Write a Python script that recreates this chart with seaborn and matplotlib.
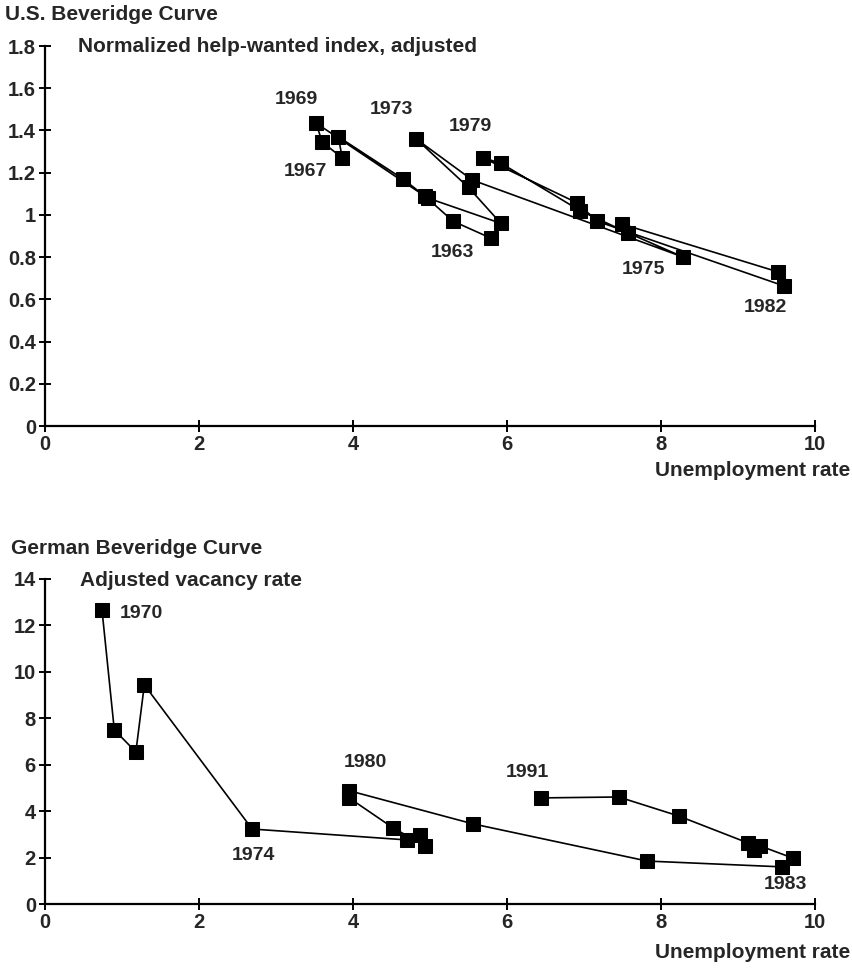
import matplotlib
matplotlib.use("Agg")
import matplotlib.pyplot as plt
import seaborn as sns
import pandas as pd

# ---------------- data ----------------
# U.S. Beveridge curve (unemployment rate, normalized help-wanted index), in time order
us_unemp = [5.79, 5.30, 4.93, 4.65, 3.81, 3.86, 3.60, 3.52, 4.97, 5.92, 5.50, 4.82,
            5.55, 8.29, 7.57, 6.95, 5.92, 5.69, 6.91, 7.17, 9.60, 9.52, 7.49]
us_hwi = [0.89, 0.97, 1.09, 1.17, 1.37, 1.27, 1.345, 1.435, 1.08, 0.96, 1.13, 1.36,
          1.165, 0.80, 0.915, 1.02, 1.245, 1.27, 1.057, 0.97, 0.663, 0.73, 0.957]
us_year_labels = ["1969", "1967", "1973", "1979", "1963", "1975", "1982"]
us_label_x = [3.27, 3.38, 4.50, 5.53, 5.29, 7.77, 9.35]
us_label_y = [1.545, 1.205, 1.497, 1.42, 0.82, 0.74, 0.56]

# German Beveridge curve (unemployment rate, adjusted vacancy rate), in time order
de_unemp = [0.74, 0.90, 1.18, 1.29, 2.69, 4.70, 4.87, 4.94, 4.52, 3.95, 3.95,
            5.56, 7.82, 9.57, 9.71, 9.29, 9.21, 9.13, 8.23, 7.45, 6.44]
de_vac = [12.67, 7.50, 6.55, 9.44, 3.23, 2.76, 2.97, 2.50, 3.28, 4.57, 4.88,
          3.45, 1.85, 1.60, 1.98, 2.50, 2.33, 2.63, 3.79, 4.61, 4.57]
de_year_labels = ["1970", "1974", "1980", "1991", "1983"]
de_label_x = [1.25, 2.71, 4.16, 6.26, 9.61]
de_label_y = [12.5, 2.1, 6.08, 5.65, 0.82]

us_xticks = [0, 2, 4, 6, 8, 10]
us_yticks = [0, 0.2, 0.4, 0.6, 0.8, 1.0, 1.2, 1.4, 1.6, 1.8]
us_yticklabels = ["0", "0.2", "0.4", "0.6", "0.8", "1", "1.2", "1.4", "1.6", "1.8"]
de_xticks = [0, 2, 4, 6, 8, 10]
de_yticks = [0, 2, 4, 6, 8, 10, 12, 14]

# ---------------- style ----------------
sns.set_style("ticks")
plt.rcParams["font.family"] = ["Liberation Sans", "DejaVu Sans"]
plt.rcParams["font.weight"] = "bold"

W, H = 853, 968
fig = plt.figure(figsize=(W / 100, H / 100), dpi=100)

FS = 14.5     # tick labels
FS_T = 15     # headings
FS_Y = 14     # year labels


def style_axes(ax, xticks, yticks, yticklabels=None):
    for s in ["top", "right"]:
        ax.spines[s].set_visible(False)
    for s in ["left", "bottom"]:
        ax.spines[s].set_color("black")
        ax.spines[s].set_linewidth(1.6)
    ax.set_xticks(xticks)
    ax.set_xticklabels([str(t) for t in xticks], fontsize=FS, fontweight="bold")
    ax.set_yticks(yticks)
    if yticklabels is None:
        yticklabels = [str(t) for t in yticks]
    ax.set_yticklabels(yticklabels, fontsize=FS, fontweight="bold")
    ax.tick_params(axis="both", direction="inout", length=9, width=1.4,
                   color="black", pad=2, left=True, bottom=True)
    ax.set_xlabel("")
    ax.set_ylabel("")
    ax.grid(False)


def px_axes(left, right, top, bottom):
    return fig.add_axes([left / W, 1 - bottom / H, (right - left) / W, (bottom - top) / H])


# ---------------- top: U.S. ----------------
ax1 = px_axes(45, 815, 46, 426)
us_df = pd.DataFrame({"u": us_unemp, "v": us_hwi})
sns.lineplot(data=us_df, x="u", y="v", sort=False, estimator=None, ax=ax1,
             color="black", linewidth=1.2, marker="s", markersize=9.5,
             markeredgecolor="black", markerfacecolor="black")
ax1.set_xlim(0, 10)
ax1.set_ylim(0, 1.8)
style_axes(ax1, us_xticks, us_yticks, us_yticklabels)
for t, x, y in zip(us_year_labels, us_label_x, us_label_y):
    ax1.text(x, y, t, fontsize=FS_Y, fontweight="bold", ha="center", va="center")

fig.text(5 / W, 1 - 15 / H, "U.S. Beveridge Curve", fontsize=FS_T, fontweight="bold",
         ha="left", va="center")
fig.text(78 / W, 1 - 47 / H, "Normalized help-wanted index, adjusted", fontsize=FS_T,
         fontweight="bold", ha="left", va="center")
fig.text(850 / W, 1 - 470 / H, "Unemployment rate", fontsize=FS_T, fontweight="bold",
         ha="right", va="center")

# ---------------- bottom: Germany ----------------
ax2 = px_axes(45, 815, 579, 904)
de_df = pd.DataFrame({"u": de_unemp, "v": de_vac})
sns.lineplot(data=de_df, x="u", y="v", sort=False, estimator=None, ax=ax2,
             color="black", linewidth=1.2, marker="s", markersize=9.5,
             markeredgecolor="black", markerfacecolor="black")
ax2.set_xlim(0, 10)
ax2.set_ylim(0, 14)
style_axes(ax2, de_xticks, de_yticks)
for t, x, y in zip(de_year_labels, de_label_x, de_label_y):
    ax2.text(x, y, t, fontsize=FS_Y, fontweight="bold", ha="center", va="center")

fig.text(11 / W, 1 - 549 / H, "German Beveridge Curve", fontsize=FS_T, fontweight="bold",
         ha="left", va="center")
fig.text(80 / W, 1 - 581 / H, "Adjusted vacancy rate", fontsize=FS_T, fontweight="bold",
         ha="left", va="center")
fig.text(850 / W, 1 - 953 / H, "Unemployment rate", fontsize=FS_T, fontweight="bold",
         ha="right", va="center")

fig.savefig("out.png", dpi=100, facecolor="white")
